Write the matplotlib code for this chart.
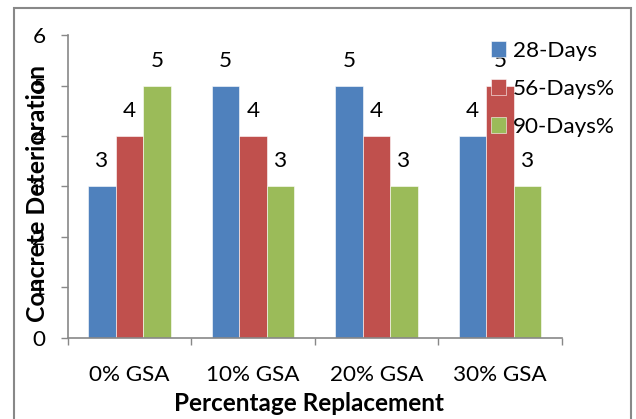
import numpy as np
import matplotlib.pyplot as plt
from matplotlib.patches import Rectangle

# --- data ---
categories = ['0% GSA', '10% GSA', '20% GSA', '30% GSA']
series_names = ['28-Days', '56-Days%', '90-Days%']
days_28 = [3, 5, 5, 4]
days_56 = [4, 4, 4, 5]
days_90 = [5, 3, 3, 3]
colors = ['#4F81BD', '#C0504D', '#9BBB59']

plt.rcParams['font.family'] = ['Lato', 'DejaVu Sans']
FS = 16.2

W, H = 636, 419
fig = plt.figure(figsize=(W / 100, H / 100), dpi=100)

# plot area in pixel terms
left, right, top, bottom = 67.7, 561.7, 35.3, 337.7
ax = fig.add_axes([left / W, 1 - bottom / H, (right - left) / W, (bottom - top) / H])

x = np.arange(len(categories))
width = 0.222
for i, (vals, name, c) in enumerate(zip([days_28, days_56, days_90], series_names, colors)):
    pos = x + (i - 1) * width
    ax.bar(pos, vals, width, color=c, label=name, edgecolor='white', linewidth=0.4, zorder=2)
    for px, v in zip(pos, vals):
        ax.text(px, v + 0.3, str(v), ha='center', va='bottom', fontsize=FS, zorder=3)

ax.set_xlim(-0.5, 3.5)
ax.set_ylim(0, 6)
ax.set_yticks(range(0, 7))
ax.tick_params(axis='y', direction='out', length=5, width=1, color='#888888',
               labelsize=FS, pad=11)

# category labels centered, tick marks between groups
ax.set_xticks(x)
ax.set_xticklabels(categories, fontsize=FS)
ax.tick_params(axis='x', which='major', length=0, pad=20)
ax.set_xticks(np.arange(-0.5, 4, 1), minor=True)
ax.tick_params(axis='x', which='minor', direction='out', length=5, width=1, color='#888888')

for s in ['top', 'right']:
    ax.spines[s].set_visible(False)
for s in ['left', 'bottom']:
    ax.spines[s].set_color('#888888')
    ax.spines[s].set_linewidth(1.2)

fig.text(38 / W, 1 - 193 / H, 'Concrete Deterioration', rotation=90,
         ha='center', va='center', fontsize=17.8, fontweight='bold')
fig.text(309 / W, 1 - 403 / H, 'Percentage Replacement',
         ha='center', va='center', fontsize=17.5, fontweight='bold')

leg = ax.legend(loc='upper left', bbox_to_anchor=(491 / W, 1 - 41 / H),
                bbox_transform=fig.transFigure, frameon=False, fontsize=FS,
                handlelength=0.68, handleheight=0.68, handletextpad=0.3,
                labelspacing=0.8, borderpad=0, borderaxespad=0)
leg.set_zorder(5)

# chart area border
fig.patches.append(Rectangle((13.5 / W, -0.1), (631 - 13.5) / W, 1.1 - 8.5 / H,
                             transform=fig.transFigure, fill=False,
                             edgecolor='#888888', linewidth=1.5))

fig.savefig('out.png', dpi=100)
